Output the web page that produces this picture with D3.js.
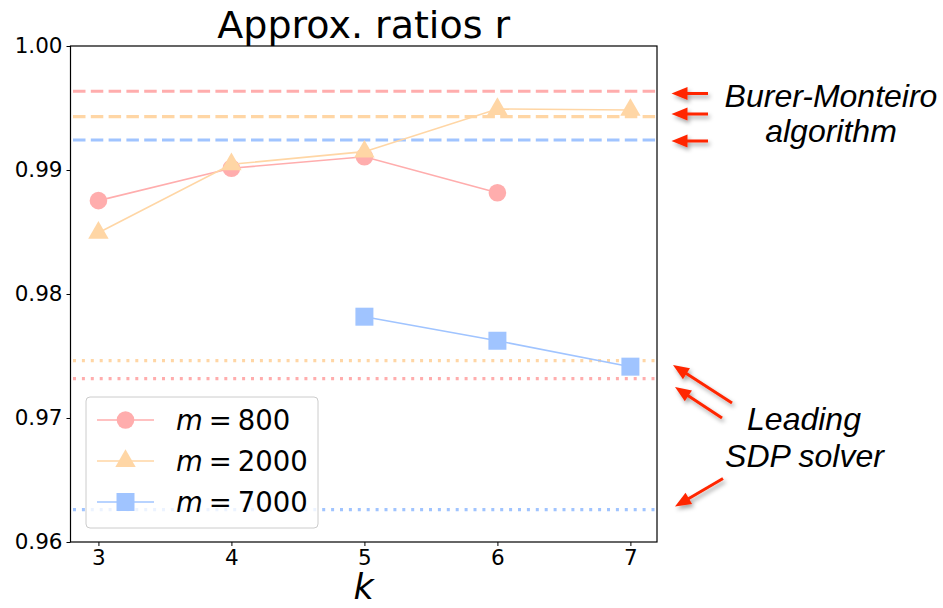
<!DOCTYPE html>
<html>
<head>
<meta charset="utf-8">
<script src="https://cdn.jsdelivr.net/npm/d3@7"></script>
<style>
  html, body { margin: 0; padding: 0; background: #fff; }
  svg { display: block; }
</style>
</head>
<body>
<svg id="chart" width="943" height="608"></svg>
<script>
// ---- data ----
const kValues = [3, 4, 5, 6, 7];
const seriesM = ["800", "2000", "7000"];
const ratios800 = [0.98753, 0.99014, 0.99107, 0.98817, null];
const ratios2000 = [0.98494, 0.99046, 0.99148, 0.99492, 0.99484];
const ratios7000 = [null, null, 0.97817, 0.97623, 0.97414];
const burerMonteiro = [0.99635, 0.99430, 0.99242];   // dashed reference levels
const sdpSolver = [0.97317, 0.97462, 0.96261];       // dotted reference levels
const yTicks = [0.96, 0.97, 0.98, 0.99, 1.00];
const xTicks = [3, 4, 5, 6, 7];
const colors = ["#FFADAD", "#FFD6A5", "#A0C4FF"];
const markers = ["circle", "triangle", "square"];

const svg = d3.select("#chart");
const plot = { left: 70.5, right: 657, top: 46, bottom: 542 };

const x = d3.scaleLinear().domain([2.79, 7.2]).range([plot.left, plot.right]);
const y = d3.scaleLinear().domain([0.96, 1.0]).range([plot.bottom, plot.top]);

const defs = svg.append("defs");
const shadow = defs.append("filter").attr("id", "shadow")
  .attr("x", "-50%").attr("y", "-50%").attr("width", "200%").attr("height", "200%");
shadow.append("feDropShadow").attr("dx", 2).attr("dy", 3)
  .attr("stdDeviation", 2).attr("flood-color", "#000").attr("flood-opacity", 0.35);
defs.append("clipPath").attr("id", "plotclip").append("rect")
  .attr("x", plot.left).attr("y", plot.top)
  .attr("width", plot.right - plot.left).attr("height", plot.bottom - plot.top);

const font = "'DejaVu Sans', sans-serif";

// ---- reference levels ----
const refG = svg.append("g").attr("clip-path", "url(#plotclip)");
refG.selectAll("line.bm").data(burerMonteiro).join("line")
  .attr("class", "bm")
  .attr("x1", plot.left + 2.5).attr("x2", plot.right)
  .attr("y1", d => y(d)).attr("y2", d => y(d))
  .attr("stroke", (d, i) => colors[i]).attr("stroke-width", 3.2)
  .attr("stroke-dasharray", "12.5,5.3");
refG.selectAll("line.sdp").data(sdpSolver).join("line")
  .attr("class", "sdp")
  .attr("x1", plot.left + 2.5).attr("x2", plot.right)
  .attr("y1", d => y(d)).attr("y2", d => y(d))
  .attr("stroke", (d, i) => colors[i]).attr("stroke-width", 3.2)
  .attr("stroke-dasharray", "3,5.9");

// ---- series ----
const allSeries = [ratios800, ratios2000, ratios7000];
const symbolFor = {
  circle: d3.symbol().type(d3.symbolCircle).size(Math.PI * 8.8 * 8.8),
  triangle: d3.symbol().type(d3.symbolTriangle).size(180),
  square: d3.symbol().type(d3.symbolSquare).size(18 * 18)
};
const serG = svg.append("g");
allSeries.forEach((vals, si) => {
  const pts = kValues.map((k, i) => ({ k, v: vals[i] })).filter(p => p.v !== null);
  serG.append("path")
    .attr("d", d3.line().x(p => x(p.k)).y(p => y(p.v))(pts))
    .attr("fill", "none").attr("stroke", colors[si]).attr("stroke-width", 1.6);
  serG.selectAll(null).data(pts).join("path")
    .attr("transform", p => `translate(${x(p.k)},${y(p.v)})`)
    .attr("d", symbolFor[markers[si]])
    .attr("fill", colors[si]);
});

// ---- axes ----
const xAxis = d3.axisBottom(x).tickValues(xTicks).tickFormat(d3.format("d")).tickSizeOuter(0).tickSize(4).tickPadding(4);
const yAxis = d3.axisLeft(y).tickValues(yTicks).tickFormat(d3.format(".2f")).tickSizeOuter(0).tickSize(4).tickPadding(4);
const gx = svg.append("g").attr("transform", `translate(0,${plot.bottom})`).call(xAxis);
const gy = svg.append("g").attr("transform", `translate(${plot.left},0)`).call(yAxis);
[gx, gy].forEach(g => {
  g.select(".domain").remove();
  g.selectAll("text").attr("font-family", font).attr("font-size", 21.5).attr("fill", "#000");
  g.selectAll("line").attr("stroke", "#000").attr("stroke-width", 1);
});
svg.append("rect")
  .attr("x", plot.left).attr("y", plot.top)
  .attr("width", plot.right - plot.left).attr("height", plot.bottom - plot.top)
  .attr("fill", "none").attr("stroke", "#000").attr("stroke-width", 1.2);

// ---- title & axis label ----
svg.append("text")
  .attr("x", (plot.left + plot.right) / 2).attr("y", 38)
  .attr("text-anchor", "middle").attr("font-family", font).attr("font-size", 38)
  .text("Approx. ratios r");
svg.append("text")
  .attr("x", (plot.left + plot.right) / 2).attr("y", 599)
  .attr("text-anchor", "middle").attr("font-family", font).attr("font-size", 35)
  .attr("font-style", "italic")
  .text("k");

// ---- legend ----
const lg = svg.append("g");
lg.append("rect").attr("x", 86).attr("y", 397).attr("width", 232).attr("height", 131)
  .attr("rx", 4).attr("fill", "#fff").attr("fill-opacity", 0.8)
  .attr("stroke", "#ccc").attr("stroke-width", 1);
seriesM.forEach((m, i) => {
  const cy = 420 + i * 41;
  lg.append("line").attr("x1", 97).attr("x2", 154).attr("y1", cy).attr("y2", cy)
    .attr("stroke", colors[i]).attr("stroke-width", 1.6);
  lg.append("path").attr("transform", `translate(125.5,${cy})`)
    .attr("d", symbolFor[markers[i]]).attr("fill", colors[i]);
  const t = lg.append("text").attr("x", 176).attr("y", cy + 10)
    .attr("font-family", font).attr("font-size", 27.5).attr("fill", "#000");
  t.append("tspan").attr("font-style", "italic").text("m");
  t.append("tspan").attr("dx", 6).text("=");
  t.append("tspan").attr("dx", 6).text(m);
});

// ---- annotations ----
const red = "#FF2600";
function arrow(x1, y1, x2, y2) {
  const dx = x2 - x1, dy = y2 - y1, len = Math.hypot(dx, dy);
  const ux = dx / len, uy = dy / len, head = 16, half = 6.5;
  const bx = x2 - ux * head, by = y2 - uy * head;
  const g = svg.append("g").attr("filter", "url(#shadow)");
  g.append("line").attr("x1", x1).attr("y1", y1).attr("x2", bx + ux * 2).attr("y2", by + uy * 2)
    .attr("stroke", red).attr("stroke-width", 3);
  g.append("path")
    .attr("d", `M${x2},${y2}L${bx - uy * half},${by + ux * half}L${bx + uy * half},${by - ux * half}Z`)
    .attr("fill", red);
}
arrow(708, 93.5, 671.5, 93.5);
arrow(708, 114, 671.5, 114);
arrow(708, 141, 671.5, 141);
arrow(732, 403, 673, 365);
arrow(722, 418, 675, 387);
arrow(723, 478.5, 675, 506.5);

const ann = svg.append("g").attr("font-family", "'Liberation Sans', Arial, sans-serif")
  .attr("font-style", "italic").attr("font-size", 32).attr("text-anchor", "middle");
ann.append("text").attr("x", 831).attr("y", 107).text("Burer-Monteiro");
ann.append("text").attr("x", 831).attr("y", 142).text("algorithm");
ann.append("text").attr("x", 804).attr("y", 430).text("Leading");
ann.append("text").attr("x", 804.5).attr("y", 466.5).text("SDP solver");
</script>
</body>
</html>
